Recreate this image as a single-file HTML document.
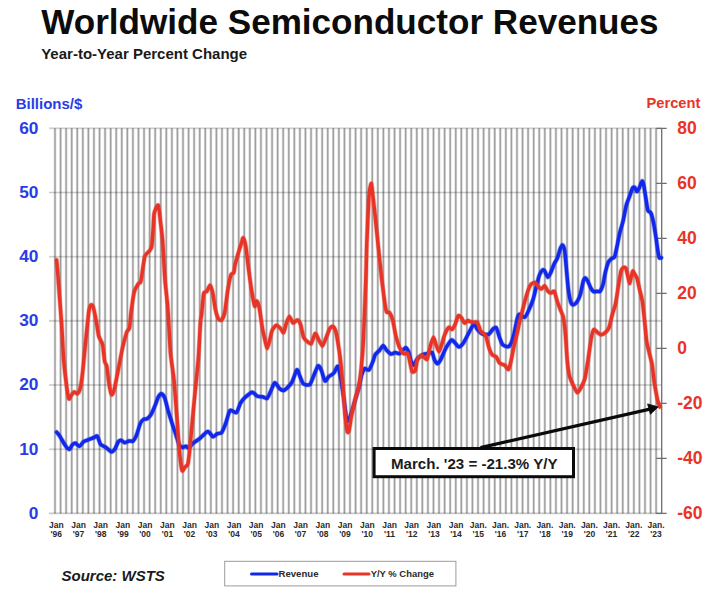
<!DOCTYPE html>
<html><head><meta charset="utf-8"><title>Worldwide Semiconductor Revenues</title>
<style>
html,body{margin:0;padding:0;background:#fff;}
body{width:719px;height:594px;overflow:hidden;position:relative;font-family:"Liberation Sans",sans-serif;}
.t{position:absolute;white-space:nowrap;font-weight:bold;line-height:1;}
svg{position:absolute;left:0;top:0;}
svg text{font-family:"Liberation Sans",sans-serif;font-weight:bold;}
</style></head><body>
<svg width="719" height="594" viewBox="0 0 719 594">
<g fill="none" stroke="#000">
<path d="M55.00,128.3V513.4M60.57,128.3V513.4M66.13,128.3V513.4M71.70,128.3V513.4M77.26,128.3V513.4M82.83,128.3V513.4M88.40,128.3V513.4M93.96,128.3V513.4M99.53,128.3V513.4M105.09,128.3V513.4M110.66,128.3V513.4M116.23,128.3V513.4M121.79,128.3V513.4M127.36,128.3V513.4M132.92,128.3V513.4M138.49,128.3V513.4M144.06,128.3V513.4M149.62,128.3V513.4M155.19,128.3V513.4M160.76,128.3V513.4M166.32,128.3V513.4M171.89,128.3V513.4M177.45,128.3V513.4M183.02,128.3V513.4M188.59,128.3V513.4M194.15,128.3V513.4M199.72,128.3V513.4M205.28,128.3V513.4M210.85,128.3V513.4M216.42,128.3V513.4M221.98,128.3V513.4M227.55,128.3V513.4M233.11,128.3V513.4M238.68,128.3V513.4M244.25,128.3V513.4M249.81,128.3V513.4M255.38,128.3V513.4M260.94,128.3V513.4M266.51,128.3V513.4M272.08,128.3V513.4M277.64,128.3V513.4M283.21,128.3V513.4M288.77,128.3V513.4M294.34,128.3V513.4M299.91,128.3V513.4M305.47,128.3V513.4M311.04,128.3V513.4M316.60,128.3V513.4M322.17,128.3V513.4M327.74,128.3V513.4M333.30,128.3V513.4M338.87,128.3V513.4M344.43,128.3V513.4M350.00,128.3V513.4M355.57,128.3V513.4M361.13,128.3V513.4M366.70,128.3V513.4M372.27,128.3V513.4M377.83,128.3V513.4M383.40,128.3V513.4M388.96,128.3V513.4M394.53,128.3V513.4M400.10,128.3V513.4M405.66,128.3V513.4M411.23,128.3V513.4M416.79,128.3V513.4M422.36,128.3V513.4M427.93,128.3V513.4M433.49,128.3V513.4M439.06,128.3V513.4M444.62,128.3V513.4M450.19,128.3V513.4M455.76,128.3V513.4M461.32,128.3V513.4M466.89,128.3V513.4M472.45,128.3V513.4M478.02,128.3V513.4M483.59,128.3V513.4M489.15,128.3V513.4M494.72,128.3V513.4M500.28,128.3V513.4M505.85,128.3V513.4M511.42,128.3V513.4M516.98,128.3V513.4M522.55,128.3V513.4M528.11,128.3V513.4M533.68,128.3V513.4M539.25,128.3V513.4M544.81,128.3V513.4M550.38,128.3V513.4M555.94,128.3V513.4M561.51,128.3V513.4M567.08,128.3V513.4M572.64,128.3V513.4M578.21,128.3V513.4M583.78,128.3V513.4M589.34,128.3V513.4M594.91,128.3V513.4M600.47,128.3V513.4M606.04,128.3V513.4M611.61,128.3V513.4M617.17,128.3V513.4M622.74,128.3V513.4M628.30,128.3V513.4M633.87,128.3V513.4M639.44,128.3V513.4M645.00,128.3V513.4M650.57,128.3V513.4M656.13,128.3V513.4" stroke-width="2.6" stroke-opacity="0.16"/>
<path d="M55.00,128.3V513.4M60.57,128.3V513.4M66.13,128.3V513.4M71.70,128.3V513.4M77.26,128.3V513.4M82.83,128.3V513.4M88.40,128.3V513.4M93.96,128.3V513.4M99.53,128.3V513.4M105.09,128.3V513.4M110.66,128.3V513.4M116.23,128.3V513.4M121.79,128.3V513.4M127.36,128.3V513.4M132.92,128.3V513.4M138.49,128.3V513.4M144.06,128.3V513.4M149.62,128.3V513.4M155.19,128.3V513.4M160.76,128.3V513.4M166.32,128.3V513.4M171.89,128.3V513.4M177.45,128.3V513.4M183.02,128.3V513.4M188.59,128.3V513.4M194.15,128.3V513.4M199.72,128.3V513.4M205.28,128.3V513.4M210.85,128.3V513.4M216.42,128.3V513.4M221.98,128.3V513.4M227.55,128.3V513.4M233.11,128.3V513.4M238.68,128.3V513.4M244.25,128.3V513.4M249.81,128.3V513.4M255.38,128.3V513.4M260.94,128.3V513.4M266.51,128.3V513.4M272.08,128.3V513.4M277.64,128.3V513.4M283.21,128.3V513.4M288.77,128.3V513.4M294.34,128.3V513.4M299.91,128.3V513.4M305.47,128.3V513.4M311.04,128.3V513.4M316.60,128.3V513.4M322.17,128.3V513.4M327.74,128.3V513.4M333.30,128.3V513.4M338.87,128.3V513.4M344.43,128.3V513.4M350.00,128.3V513.4M355.57,128.3V513.4M361.13,128.3V513.4M366.70,128.3V513.4M372.27,128.3V513.4M377.83,128.3V513.4M383.40,128.3V513.4M388.96,128.3V513.4M394.53,128.3V513.4M400.10,128.3V513.4M405.66,128.3V513.4M411.23,128.3V513.4M416.79,128.3V513.4M422.36,128.3V513.4M427.93,128.3V513.4M433.49,128.3V513.4M439.06,128.3V513.4M444.62,128.3V513.4M450.19,128.3V513.4M455.76,128.3V513.4M461.32,128.3V513.4M466.89,128.3V513.4M472.45,128.3V513.4M478.02,128.3V513.4M483.59,128.3V513.4M489.15,128.3V513.4M494.72,128.3V513.4M500.28,128.3V513.4M505.85,128.3V513.4M511.42,128.3V513.4M516.98,128.3V513.4M522.55,128.3V513.4M528.11,128.3V513.4M533.68,128.3V513.4M539.25,128.3V513.4M544.81,128.3V513.4M550.38,128.3V513.4M555.94,128.3V513.4M561.51,128.3V513.4M567.08,128.3V513.4M572.64,128.3V513.4M578.21,128.3V513.4M583.78,128.3V513.4M589.34,128.3V513.4M594.91,128.3V513.4M600.47,128.3V513.4M606.04,128.3V513.4M611.61,128.3V513.4M617.17,128.3V513.4M622.74,128.3V513.4M628.30,128.3V513.4M633.87,128.3V513.4M639.44,128.3V513.4M645.00,128.3V513.4M650.57,128.3V513.4M656.13,128.3V513.4" stroke-width="1.3" stroke-opacity="0.26"/>
<path d="M49,128.3H661.7M49,192.5H661.7M49,256.7H661.7M49,320.9H661.7M49,385.0H661.7M49,449.2H661.7M49,513.4H661.7" stroke-width="2.1" stroke-opacity="0.11"/>
<path d="M49,128.3H661.7M49,192.5H661.7M49,256.7H661.7M49,320.9H661.7M49,385.0H661.7M49,449.2H661.7M49,513.4H661.7" stroke-width="1.1" stroke-opacity="0.11"/>
</g>
<g stroke="#6e6e6e" stroke-width="1.3" fill="none">
<path d="M661.7,128.3V513.4M656.2,128.3H666.7M656.2,183.3H666.7M656.2,238.3H666.7M656.2,293.4H666.7M656.2,348.4H666.7M656.2,403.4H666.7M656.2,458.4H666.7M656.2,513.4H666.7"/>
</g>
<g fill="none" stroke="#1128ea" stroke-linejoin="round" stroke-linecap="round">
<path d="M56.7,432.2C57.0,432.6 58.9,434.7 59.5,435.7C60.1,436.7 61.9,439.8 62.6,441.0C63.3,442.2 65.1,445.4 65.8,446.3C66.5,447.2 68.7,449.5 69.4,449.4C70.1,449.3 71.5,445.9 72.1,445.2C72.7,444.5 74.4,443.0 75.2,443.1C76.0,443.2 78.6,446.5 79.5,446.3C80.4,446.1 82.7,442.3 83.7,441.6C84.7,440.9 87.7,440.0 88.9,439.5C90.1,439.0 93.3,437.8 94.2,437.4C95.1,437.0 96.6,435.5 97.3,436.2C98.0,436.9 99.6,443.0 100.5,444.2C101.4,445.4 104.6,446.5 105.8,447.3C107.0,448.1 110.6,451.8 111.6,451.9C112.6,452.0 114.5,449.5 115.2,448.4C115.9,447.3 117.7,442.5 118.4,441.6C119.1,440.7 120.8,440.3 121.5,440.4C122.2,440.5 123.9,442.6 124.7,442.7C125.5,442.8 128.0,441.2 128.9,441.0C129.8,440.8 132.3,441.6 133.1,441.0C133.9,440.4 135.5,437.7 136.3,435.7C137.1,433.7 139.7,424.9 140.5,423.1C141.3,421.3 142.9,419.8 143.6,419.3C144.3,418.8 146.0,419.4 146.8,418.9C147.6,418.4 150.1,416.2 151.0,414.7C151.9,413.2 154.4,407.2 155.2,405.2C156.0,403.2 157.7,398.1 158.4,396.8C159.1,395.5 160.8,393.6 161.5,393.7C162.2,393.8 164.0,396.2 164.7,397.9C165.4,399.6 167.0,406.6 167.8,409.4C168.6,412.2 171.1,420.2 172.0,423.1C172.9,426.0 175.4,433.3 176.2,435.7C177.0,438.1 178.7,443.9 179.4,445.2C180.1,446.5 181.8,447.2 182.5,447.3C183.2,447.4 185.0,446.2 185.7,446.3C186.4,446.4 188.1,448.3 188.9,447.9C189.7,447.5 192.2,443.9 193.1,443.1C194.0,442.3 196.2,441.1 197.0,440.5C197.8,439.9 199.3,438.8 200.5,437.8C201.7,436.8 206.5,431.6 207.9,431.5C209.3,431.4 212.1,436.6 213.1,436.8C214.1,437.0 216.5,434.1 217.4,433.6C218.3,433.1 220.7,433.8 221.6,432.6C222.5,431.4 224.9,425.5 225.8,423.1C226.7,420.7 228.8,411.7 230.0,410.5C231.2,409.3 235.1,413.4 236.3,412.6C237.5,411.8 239.6,404.7 240.5,403.1C241.4,401.5 243.4,399.0 244.7,397.8C246.0,396.6 250.7,392.4 252.1,392.2C253.5,392.0 256.1,395.7 257.3,396.2C258.5,396.7 261.5,396.6 262.6,396.8C263.7,397.0 266.3,399.0 267.2,398.3C268.1,397.6 270.2,392.2 271.0,390.5C271.8,388.8 273.9,382.9 274.8,382.7C275.7,382.5 278.4,387.5 279.4,388.4C280.4,389.3 282.7,390.6 283.6,390.5C284.5,390.4 286.9,388.2 287.8,387.3C288.7,386.4 291.0,384.0 292.0,382.1C293.0,380.2 296.1,370.6 296.9,369.9C297.7,369.2 298.9,374.0 299.6,375.5C300.3,377.0 302.3,382.8 303.4,383.8C304.5,384.8 308.5,385.5 309.7,384.6C310.9,383.7 313.0,377.3 313.9,375.2C314.8,373.1 317.3,366.4 318.1,365.8C318.9,365.2 320.4,368.3 321.2,370.0C322.0,371.7 324.2,380.3 325.0,381.0C325.8,381.7 327.6,377.7 328.6,376.8C329.6,375.9 332.9,374.2 333.9,373.0C334.9,371.8 337.2,365.5 338.0,366.3C338.8,367.1 340.3,376.3 341.0,380.0C341.7,383.7 343.3,395.5 344.0,400.0C344.7,404.5 346.3,419.4 347.0,421.0C347.7,422.6 349.9,417.3 350.8,415.0C351.7,412.7 354.3,403.0 355.2,400.0C356.1,397.0 358.0,390.6 358.7,388.0C359.4,385.4 360.9,377.8 361.4,376.0C361.9,374.2 362.4,372.8 362.8,372.0C363.2,371.2 364.0,368.6 364.7,368.4C365.4,368.2 368.0,370.8 368.9,370.0C369.8,369.2 372.4,362.7 373.1,361.0C373.8,359.3 374.5,355.9 375.2,354.7C375.9,353.5 378.5,351.5 379.4,350.5C380.3,349.5 382.4,345.6 383.2,345.6C384.0,345.6 385.9,349.6 386.8,350.5C387.7,351.4 390.1,353.9 391.0,354.1C391.9,354.3 394.3,352.7 395.2,352.6C396.1,352.5 398.6,353.8 399.4,353.6C400.2,353.4 401.9,351.1 402.6,350.5C403.3,349.9 405.0,347.5 405.7,347.7C406.4,347.9 408.3,351.1 408.9,352.6C409.5,354.1 410.5,359.6 411.0,361.0C411.5,362.4 412.8,365.4 413.5,365.2C414.2,365.0 416.3,360.1 417.3,358.9C418.3,357.7 421.4,355.3 422.6,354.7C423.8,354.1 426.8,353.8 427.8,353.6C428.8,353.4 431.3,351.9 432.0,352.6C432.7,353.3 434.0,358.8 434.6,360.0C435.2,361.2 436.7,363.7 437.3,363.7C437.9,363.7 439.7,361.5 440.5,360.0C441.3,358.5 443.8,352.4 444.7,350.5C445.6,348.6 448.1,344.3 448.9,343.1C449.7,341.9 451.3,340.0 452.0,340.0C452.7,340.0 454.5,342.3 455.2,343.1C455.9,343.9 458.0,346.8 458.8,346.9C459.6,347.0 461.7,345.3 462.6,344.2C463.5,343.1 465.9,338.5 466.8,336.8C467.7,335.1 470.2,330.0 471.0,328.6C471.8,327.2 473.4,323.8 474.1,324.0C474.8,324.2 476.9,328.9 477.8,330.0C478.7,331.1 481.4,333.6 482.6,334.1C483.8,334.6 487.7,334.7 488.9,334.1C490.1,333.5 492.3,329.6 493.1,328.9C493.9,328.2 495.6,326.9 496.3,327.8C497.0,328.7 498.8,335.4 499.5,337.3C500.2,339.2 501.7,343.7 502.6,344.7C503.5,345.7 507.0,346.9 507.9,346.8C508.8,346.7 510.3,345.1 511.0,343.6C511.7,342.1 513.5,335.9 514.2,333.1C514.9,330.3 516.7,320.5 517.3,318.4C517.9,316.3 518.6,314.3 519.4,314.2C520.2,314.1 523.7,317.8 524.7,317.3C525.7,316.8 528.0,311.9 528.9,309.9C529.8,307.9 532.3,301.9 533.1,299.4C533.9,296.9 535.6,289.5 536.3,286.8C537.0,284.1 538.7,277.0 539.4,275.2C540.1,273.4 542.0,270.5 542.6,270.0C543.2,269.5 544.1,270.2 544.7,271.0C545.3,271.8 547.1,277.2 547.8,277.3C548.5,277.4 550.3,273.6 551.0,272.1C551.7,270.6 553.5,265.2 554.2,263.7C554.9,262.2 556.6,260.0 557.3,258.4C558.0,256.8 559.7,250.2 560.3,248.7C560.9,247.2 562.0,244.9 562.5,245.1C563.0,245.3 564.1,247.4 564.6,250.2C565.1,253.0 566.2,266.5 566.6,271.0C567.0,275.5 568.1,287.6 568.6,291.0C569.1,294.4 570.2,300.5 570.7,302.0C571.2,303.5 572.4,304.8 573.1,304.8C573.8,304.8 576.2,302.9 577.0,301.8C577.8,300.7 579.6,296.8 580.3,294.5C581.0,292.2 582.7,282.8 583.3,281.0C583.9,279.2 584.9,277.9 585.4,278.0C585.9,278.1 587.3,280.4 587.9,281.5C588.5,282.6 590.1,286.7 590.7,287.8C591.3,288.9 593.1,291.3 593.8,291.7C594.5,292.1 596.3,291.3 597.0,291.3C597.7,291.3 599.3,292.1 600.0,291.3C600.7,290.5 602.5,286.2 603.1,284.2C603.7,282.2 604.6,275.4 605.2,273.0C605.8,270.6 607.5,264.2 608.2,262.6C608.9,261.0 610.8,259.3 611.5,258.7C612.2,258.1 613.9,258.3 614.5,257.0C615.1,255.7 616.4,249.2 617.0,246.5C617.6,243.8 619.3,234.8 620.0,232.0C620.7,229.2 622.4,223.9 623.1,221.0C623.8,218.1 625.6,207.9 626.3,205.2C627.0,202.5 628.7,198.7 629.4,196.8C630.1,194.9 632.0,189.0 632.6,188.0C633.2,187.0 634.2,187.0 634.7,187.4C635.2,187.8 636.3,191.6 636.8,191.6C637.3,191.6 638.9,188.6 639.5,187.4C640.1,186.2 641.6,181.2 642.1,181.0C642.6,180.8 643.3,183.3 643.7,185.2C644.1,187.1 645.3,195.1 645.8,197.9C646.3,200.7 647.3,208.8 647.9,210.5C648.5,212.2 650.3,211.6 650.9,213.0C651.5,214.4 653.1,220.6 653.6,223.1C654.1,225.6 655.2,232.7 655.7,235.7C656.2,238.7 657.4,248.1 657.8,250.5C658.2,252.9 658.9,257.0 659.3,257.8C659.7,258.6 661.2,257.8 661.4,257.8" stroke-width="4.9" stroke-opacity="0.35"/>
<path d="M56.7,432.2C57.0,432.6 58.9,434.7 59.5,435.7C60.1,436.7 61.9,439.8 62.6,441.0C63.3,442.2 65.1,445.4 65.8,446.3C66.5,447.2 68.7,449.5 69.4,449.4C70.1,449.3 71.5,445.9 72.1,445.2C72.7,444.5 74.4,443.0 75.2,443.1C76.0,443.2 78.6,446.5 79.5,446.3C80.4,446.1 82.7,442.3 83.7,441.6C84.7,440.9 87.7,440.0 88.9,439.5C90.1,439.0 93.3,437.8 94.2,437.4C95.1,437.0 96.6,435.5 97.3,436.2C98.0,436.9 99.6,443.0 100.5,444.2C101.4,445.4 104.6,446.5 105.8,447.3C107.0,448.1 110.6,451.8 111.6,451.9C112.6,452.0 114.5,449.5 115.2,448.4C115.9,447.3 117.7,442.5 118.4,441.6C119.1,440.7 120.8,440.3 121.5,440.4C122.2,440.5 123.9,442.6 124.7,442.7C125.5,442.8 128.0,441.2 128.9,441.0C129.8,440.8 132.3,441.6 133.1,441.0C133.9,440.4 135.5,437.7 136.3,435.7C137.1,433.7 139.7,424.9 140.5,423.1C141.3,421.3 142.9,419.8 143.6,419.3C144.3,418.8 146.0,419.4 146.8,418.9C147.6,418.4 150.1,416.2 151.0,414.7C151.9,413.2 154.4,407.2 155.2,405.2C156.0,403.2 157.7,398.1 158.4,396.8C159.1,395.5 160.8,393.6 161.5,393.7C162.2,393.8 164.0,396.2 164.7,397.9C165.4,399.6 167.0,406.6 167.8,409.4C168.6,412.2 171.1,420.2 172.0,423.1C172.9,426.0 175.4,433.3 176.2,435.7C177.0,438.1 178.7,443.9 179.4,445.2C180.1,446.5 181.8,447.2 182.5,447.3C183.2,447.4 185.0,446.2 185.7,446.3C186.4,446.4 188.1,448.3 188.9,447.9C189.7,447.5 192.2,443.9 193.1,443.1C194.0,442.3 196.2,441.1 197.0,440.5C197.8,439.9 199.3,438.8 200.5,437.8C201.7,436.8 206.5,431.6 207.9,431.5C209.3,431.4 212.1,436.6 213.1,436.8C214.1,437.0 216.5,434.1 217.4,433.6C218.3,433.1 220.7,433.8 221.6,432.6C222.5,431.4 224.9,425.5 225.8,423.1C226.7,420.7 228.8,411.7 230.0,410.5C231.2,409.3 235.1,413.4 236.3,412.6C237.5,411.8 239.6,404.7 240.5,403.1C241.4,401.5 243.4,399.0 244.7,397.8C246.0,396.6 250.7,392.4 252.1,392.2C253.5,392.0 256.1,395.7 257.3,396.2C258.5,396.7 261.5,396.6 262.6,396.8C263.7,397.0 266.3,399.0 267.2,398.3C268.1,397.6 270.2,392.2 271.0,390.5C271.8,388.8 273.9,382.9 274.8,382.7C275.7,382.5 278.4,387.5 279.4,388.4C280.4,389.3 282.7,390.6 283.6,390.5C284.5,390.4 286.9,388.2 287.8,387.3C288.7,386.4 291.0,384.0 292.0,382.1C293.0,380.2 296.1,370.6 296.9,369.9C297.7,369.2 298.9,374.0 299.6,375.5C300.3,377.0 302.3,382.8 303.4,383.8C304.5,384.8 308.5,385.5 309.7,384.6C310.9,383.7 313.0,377.3 313.9,375.2C314.8,373.1 317.3,366.4 318.1,365.8C318.9,365.2 320.4,368.3 321.2,370.0C322.0,371.7 324.2,380.3 325.0,381.0C325.8,381.7 327.6,377.7 328.6,376.8C329.6,375.9 332.9,374.2 333.9,373.0C334.9,371.8 337.2,365.5 338.0,366.3C338.8,367.1 340.3,376.3 341.0,380.0C341.7,383.7 343.3,395.5 344.0,400.0C344.7,404.5 346.3,419.4 347.0,421.0C347.7,422.6 349.9,417.3 350.8,415.0C351.7,412.7 354.3,403.0 355.2,400.0C356.1,397.0 358.0,390.6 358.7,388.0C359.4,385.4 360.9,377.8 361.4,376.0C361.9,374.2 362.4,372.8 362.8,372.0C363.2,371.2 364.0,368.6 364.7,368.4C365.4,368.2 368.0,370.8 368.9,370.0C369.8,369.2 372.4,362.7 373.1,361.0C373.8,359.3 374.5,355.9 375.2,354.7C375.9,353.5 378.5,351.5 379.4,350.5C380.3,349.5 382.4,345.6 383.2,345.6C384.0,345.6 385.9,349.6 386.8,350.5C387.7,351.4 390.1,353.9 391.0,354.1C391.9,354.3 394.3,352.7 395.2,352.6C396.1,352.5 398.6,353.8 399.4,353.6C400.2,353.4 401.9,351.1 402.6,350.5C403.3,349.9 405.0,347.5 405.7,347.7C406.4,347.9 408.3,351.1 408.9,352.6C409.5,354.1 410.5,359.6 411.0,361.0C411.5,362.4 412.8,365.4 413.5,365.2C414.2,365.0 416.3,360.1 417.3,358.9C418.3,357.7 421.4,355.3 422.6,354.7C423.8,354.1 426.8,353.8 427.8,353.6C428.8,353.4 431.3,351.9 432.0,352.6C432.7,353.3 434.0,358.8 434.6,360.0C435.2,361.2 436.7,363.7 437.3,363.7C437.9,363.7 439.7,361.5 440.5,360.0C441.3,358.5 443.8,352.4 444.7,350.5C445.6,348.6 448.1,344.3 448.9,343.1C449.7,341.9 451.3,340.0 452.0,340.0C452.7,340.0 454.5,342.3 455.2,343.1C455.9,343.9 458.0,346.8 458.8,346.9C459.6,347.0 461.7,345.3 462.6,344.2C463.5,343.1 465.9,338.5 466.8,336.8C467.7,335.1 470.2,330.0 471.0,328.6C471.8,327.2 473.4,323.8 474.1,324.0C474.8,324.2 476.9,328.9 477.8,330.0C478.7,331.1 481.4,333.6 482.6,334.1C483.8,334.6 487.7,334.7 488.9,334.1C490.1,333.5 492.3,329.6 493.1,328.9C493.9,328.2 495.6,326.9 496.3,327.8C497.0,328.7 498.8,335.4 499.5,337.3C500.2,339.2 501.7,343.7 502.6,344.7C503.5,345.7 507.0,346.9 507.9,346.8C508.8,346.7 510.3,345.1 511.0,343.6C511.7,342.1 513.5,335.9 514.2,333.1C514.9,330.3 516.7,320.5 517.3,318.4C517.9,316.3 518.6,314.3 519.4,314.2C520.2,314.1 523.7,317.8 524.7,317.3C525.7,316.8 528.0,311.9 528.9,309.9C529.8,307.9 532.3,301.9 533.1,299.4C533.9,296.9 535.6,289.5 536.3,286.8C537.0,284.1 538.7,277.0 539.4,275.2C540.1,273.4 542.0,270.5 542.6,270.0C543.2,269.5 544.1,270.2 544.7,271.0C545.3,271.8 547.1,277.2 547.8,277.3C548.5,277.4 550.3,273.6 551.0,272.1C551.7,270.6 553.5,265.2 554.2,263.7C554.9,262.2 556.6,260.0 557.3,258.4C558.0,256.8 559.7,250.2 560.3,248.7C560.9,247.2 562.0,244.9 562.5,245.1C563.0,245.3 564.1,247.4 564.6,250.2C565.1,253.0 566.2,266.5 566.6,271.0C567.0,275.5 568.1,287.6 568.6,291.0C569.1,294.4 570.2,300.5 570.7,302.0C571.2,303.5 572.4,304.8 573.1,304.8C573.8,304.8 576.2,302.9 577.0,301.8C577.8,300.7 579.6,296.8 580.3,294.5C581.0,292.2 582.7,282.8 583.3,281.0C583.9,279.2 584.9,277.9 585.4,278.0C585.9,278.1 587.3,280.4 587.9,281.5C588.5,282.6 590.1,286.7 590.7,287.8C591.3,288.9 593.1,291.3 593.8,291.7C594.5,292.1 596.3,291.3 597.0,291.3C597.7,291.3 599.3,292.1 600.0,291.3C600.7,290.5 602.5,286.2 603.1,284.2C603.7,282.2 604.6,275.4 605.2,273.0C605.8,270.6 607.5,264.2 608.2,262.6C608.9,261.0 610.8,259.3 611.5,258.7C612.2,258.1 613.9,258.3 614.5,257.0C615.1,255.7 616.4,249.2 617.0,246.5C617.6,243.8 619.3,234.8 620.0,232.0C620.7,229.2 622.4,223.9 623.1,221.0C623.8,218.1 625.6,207.9 626.3,205.2C627.0,202.5 628.7,198.7 629.4,196.8C630.1,194.9 632.0,189.0 632.6,188.0C633.2,187.0 634.2,187.0 634.7,187.4C635.2,187.8 636.3,191.6 636.8,191.6C637.3,191.6 638.9,188.6 639.5,187.4C640.1,186.2 641.6,181.2 642.1,181.0C642.6,180.8 643.3,183.3 643.7,185.2C644.1,187.1 645.3,195.1 645.8,197.9C646.3,200.7 647.3,208.8 647.9,210.5C648.5,212.2 650.3,211.6 650.9,213.0C651.5,214.4 653.1,220.6 653.6,223.1C654.1,225.6 655.2,232.7 655.7,235.7C656.2,238.7 657.4,248.1 657.8,250.5C658.2,252.9 658.9,257.0 659.3,257.8C659.7,258.6 661.2,257.8 661.4,257.8" stroke-width="3.5"/>
</g>
<g fill="none" stroke="#e83426" stroke-linejoin="round" stroke-linecap="round">
<path d="M56.6,260.0C56.8,262.4 57.9,274.6 58.4,281.6C58.9,288.6 61.0,315.0 61.6,323.6C62.2,332.2 63.1,353.0 63.7,360.0C64.3,367.0 66.2,383.1 66.8,387.4C67.4,391.7 68.4,398.0 68.9,398.9C69.4,399.8 70.4,396.6 71.0,395.8C71.6,395.0 73.5,392.2 74.2,392.0C74.9,391.8 76.8,394.0 77.4,393.7C78.0,393.4 79.3,391.8 79.9,389.5C80.5,387.2 82.1,376.8 82.6,372.6C83.1,368.4 84.0,357.8 84.7,351.0C85.4,344.2 88.2,316.0 88.9,311.0C89.6,306.0 90.5,305.6 91.0,305.1C91.5,304.6 92.5,305.0 93.1,306.8C93.7,308.6 95.7,318.3 96.3,321.5C96.9,324.7 98.1,333.7 98.8,336.3C99.5,338.9 102.0,341.9 102.6,344.7C103.2,347.5 104.2,359.1 104.7,361.5C105.2,363.9 106.3,363.9 106.8,366.3C107.3,368.7 108.4,380.0 108.9,383.1C109.4,386.2 111.0,394.0 111.6,394.7C112.2,395.4 113.6,391.7 114.2,389.5C114.8,387.3 116.6,378.2 117.3,374.7C118.0,371.2 119.9,360.9 120.5,358.0C121.1,355.1 121.8,350.9 122.5,348.0C123.2,345.1 126.0,334.2 126.8,332.0C127.6,329.8 129.0,329.9 129.5,327.8C130.0,325.7 130.5,316.9 131.0,313.0C131.5,309.1 133.4,295.2 134.2,292.0C135.0,288.8 137.7,284.9 138.4,283.7C139.1,282.5 140.2,284.0 140.9,281.0C141.6,278.0 143.8,260.1 144.7,256.8C145.6,253.5 148.7,252.0 149.5,250.8C150.3,249.6 151.4,248.5 151.8,246.0C152.2,243.5 152.9,231.6 153.2,228.0C153.5,224.4 153.6,215.6 154.2,213.1C154.8,210.6 157.5,204.3 158.2,205.3C158.9,206.3 160.0,218.1 160.5,222.0C161.0,225.9 162.1,234.1 162.6,240.5C163.1,246.9 164.4,272.6 165.0,280.0C165.6,287.4 167.2,300.0 167.8,308.0C168.4,316.0 169.8,345.0 170.5,353.0C171.2,361.0 173.4,373.3 174.1,381.0C174.8,388.7 176.7,415.4 177.3,423.0C177.9,430.6 178.9,445.3 179.4,450.5C179.9,455.7 181.5,468.7 182.1,470.5C182.7,472.3 184.1,468.0 184.7,467.3C185.3,466.6 187.2,466.2 187.8,464.1C188.4,462.0 189.3,454.1 189.9,448.4C190.5,442.7 192.4,420.0 193.1,412.6C193.8,405.2 195.6,387.0 196.2,381.0C196.8,375.0 197.9,364.5 198.4,358.0C198.9,351.5 200.1,326.8 200.5,322.0C200.9,317.2 201.2,317.8 201.6,314.7C202.0,311.6 203.1,296.2 203.7,293.6C204.3,291.0 206.1,292.4 206.8,291.5C207.5,290.6 209.4,285.1 210.0,285.2C210.6,285.3 212.1,290.0 212.7,292.6C213.3,295.2 214.6,305.5 215.2,308.4C215.8,311.3 217.7,317.6 218.4,318.9C219.1,320.2 220.9,320.6 221.6,319.9C222.3,319.2 224.0,316.0 224.7,312.6C225.4,309.2 227.2,293.6 227.9,289.4C228.6,285.2 230.4,276.5 231.0,274.7C231.6,272.9 233.3,273.8 233.8,272.6C234.3,271.4 234.6,266.7 235.2,264.2C235.8,261.7 238.7,251.8 239.4,249.5C240.1,247.2 241.1,244.4 241.5,243.1C241.9,241.8 242.7,237.5 243.2,237.9C243.7,238.3 245.2,242.9 245.8,246.3C246.4,249.7 247.8,263.2 248.5,268.4C249.2,273.6 251.4,289.4 252.1,293.6C252.8,297.8 254.3,305.5 254.8,306.3C255.3,307.1 256.4,300.8 256.9,301.0C257.4,301.2 258.8,305.3 259.4,308.4C260.0,311.5 262.0,326.0 262.6,329.4C263.2,332.8 264.2,336.8 264.7,338.9C265.2,341.0 266.6,348.4 267.2,348.4C267.8,348.4 269.5,340.9 270.0,338.9C270.5,336.9 271.4,332.0 272.1,330.5C272.8,329.0 275.4,325.5 276.3,325.3C277.2,325.1 279.7,327.6 280.5,328.4C281.3,329.2 283.0,333.2 283.6,332.6C284.2,332.0 285.8,324.9 286.4,323.1C287.0,321.3 288.6,316.4 289.3,316.4C290.0,316.4 292.2,322.7 293.1,323.1C294.0,323.5 296.5,319.8 297.3,319.9C298.1,320.0 299.8,322.2 300.5,324.1C301.2,326.0 302.8,335.3 303.6,337.3C304.4,339.3 307.0,341.3 307.8,342.0C308.6,342.7 310.5,344.4 311.3,343.5C312.1,342.6 314.4,334.1 315.2,333.6C316.0,333.1 317.5,337.5 318.3,338.9C319.1,340.3 321.7,346.1 322.5,346.0C323.3,345.9 325.2,339.9 326.0,338.0C326.8,336.1 329.1,329.7 329.9,328.4C330.7,327.1 332.4,326.0 333.1,326.5C333.8,327.0 335.5,330.2 336.2,333.0C336.9,335.8 338.8,348.1 339.4,352.0C340.0,355.9 340.9,364.0 341.3,368.0C341.7,372.0 342.7,383.2 343.1,388.4C343.5,393.6 344.7,411.0 345.2,415.7C345.7,420.4 346.9,429.9 347.3,431.5C347.7,433.1 348.5,432.2 349.0,430.5C349.5,428.8 350.8,419.4 351.5,415.7C352.2,412.0 355.0,400.0 355.8,396.8C356.6,393.6 358.1,390.2 358.7,387.0C359.3,383.8 360.8,373.2 361.3,368.0C361.8,362.8 362.9,349.7 363.4,340.0C363.9,330.3 365.4,290.6 365.8,280.0C366.2,269.4 366.5,252.7 366.8,243.6C367.1,234.5 368.5,203.5 368.9,197.4C369.3,191.3 369.7,189.4 370.0,187.9C370.3,186.4 371.1,182.7 371.4,183.7C371.7,184.7 372.7,193.8 373.1,197.4C373.5,201.0 374.6,210.8 375.2,216.3C375.8,221.8 377.7,241.1 378.4,247.8C379.1,254.5 380.9,271.8 381.5,277.0C382.1,282.2 383.2,290.9 383.7,294.7C384.2,298.5 385.8,309.6 386.4,311.6C387.0,313.6 388.8,311.7 389.5,312.6C390.2,313.5 392.0,317.6 392.7,320.0C393.4,322.4 394.9,331.7 395.6,334.7C396.3,337.7 398.5,345.2 399.4,347.3C400.3,349.4 402.7,352.9 403.6,353.6C404.5,354.3 407.1,352.7 407.8,353.6C408.5,354.5 409.4,360.1 409.9,362.1C410.4,364.1 411.5,370.6 412.1,371.5C412.7,372.4 414.6,371.8 415.2,370.5C415.8,369.2 416.6,361.7 417.3,360.0C418.0,358.3 420.7,355.5 421.5,355.3C422.3,355.1 424.1,357.4 424.7,357.8C425.3,358.2 426.6,360.3 427.2,358.9C427.8,357.5 429.9,347.6 430.6,345.2C431.3,342.8 432.9,337.2 433.5,337.2C434.1,337.2 435.6,343.6 436.2,345.2C436.8,346.8 438.4,351.5 439.0,351.5C439.6,351.5 440.9,347.0 441.5,345.2C442.1,343.4 443.9,336.7 444.7,334.7C445.5,332.7 448.1,327.9 448.9,327.3C449.7,326.7 451.3,329.7 452.0,329.4C452.7,329.1 454.5,325.7 455.2,324.2C455.9,322.7 457.6,316.5 458.3,315.8C459.0,315.1 460.8,317.1 461.5,317.9C462.2,318.7 464.0,322.8 464.7,323.1C465.4,323.4 467.0,320.7 467.8,320.6C468.6,320.5 470.9,322.1 472.0,322.3C473.1,322.5 476.5,321.5 477.4,322.4C478.3,323.3 479.6,329.2 480.5,330.7C481.4,332.2 484.9,334.1 485.8,336.0C486.7,337.9 488.2,345.5 488.9,347.6C489.6,349.7 491.3,353.7 492.1,354.7C492.9,355.7 495.5,355.9 496.3,356.8C497.1,357.7 498.6,362.2 499.5,363.1C500.4,364.0 503.7,364.5 504.7,365.2C505.7,365.9 507.8,369.9 508.5,369.4C509.2,368.9 510.4,363.7 511.0,361.0C511.6,358.3 513.5,348.3 514.2,345.2C514.9,342.1 516.7,335.1 517.3,332.6C517.9,330.1 518.7,325.6 519.4,322.6C520.1,319.6 522.8,309.2 523.7,305.7C524.6,302.2 527.1,293.4 527.9,291.0C528.7,288.6 530.2,285.2 531.0,284.3C531.8,283.4 534.4,282.3 535.2,282.6C536.0,282.9 537.7,286.1 538.4,286.8C539.1,287.5 540.8,289.0 541.5,288.9C542.2,288.8 544.0,285.6 544.7,285.8C545.4,286.0 547.1,290.2 547.8,291.0C548.5,291.8 550.3,293.1 551.0,293.1C551.7,293.1 553.5,290.5 554.2,291.4C554.9,292.3 556.6,299.5 557.3,301.5C558.0,303.5 559.8,308.2 560.5,310.0C561.2,311.8 562.9,314.8 563.4,317.5C563.9,320.2 565.1,330.2 565.5,335.0C565.9,339.8 566.9,356.6 567.3,361.0C567.7,365.4 568.8,372.9 569.2,375.0C569.6,377.1 570.5,378.7 571.0,380.0C571.5,381.3 573.4,385.6 574.1,387.0C574.8,388.4 576.6,392.4 577.3,392.6C578.0,392.8 579.7,390.1 580.5,388.5C581.3,386.9 584.1,381.7 584.9,378.5C585.7,375.3 587.5,363.5 588.2,359.0C588.9,354.5 590.7,341.3 591.3,338.0C591.9,334.7 593.2,329.9 593.9,329.4C594.6,328.8 597.3,332.4 598.1,333.0C598.9,333.6 600.5,334.9 601.3,334.8C602.1,334.7 604.6,333.2 605.5,332.4C606.4,331.6 608.5,329.2 609.2,327.2C609.9,325.2 611.6,317.1 612.3,314.5C613.0,311.9 614.8,307.1 615.5,304.0C616.2,300.9 617.8,289.7 618.4,286.0C619.0,282.3 620.6,272.5 621.2,270.5C621.8,268.5 623.0,267.8 623.5,267.5C624.0,267.2 625.3,267.3 625.8,268.2C626.3,269.1 627.3,273.8 627.7,275.5C628.1,277.2 629.3,283.5 629.7,283.5C630.1,283.5 631.1,276.9 631.5,275.5C631.9,274.1 632.5,271.1 632.9,271.0C633.3,270.9 634.5,273.9 635.0,274.7C635.5,275.5 636.6,276.9 637.1,278.5C637.6,280.1 639.0,286.9 639.6,289.5C640.2,292.1 642.0,298.6 642.5,302.1C643.0,305.6 644.1,316.7 644.6,321.0C645.1,325.3 646.1,337.4 646.6,341.0C647.1,344.6 648.8,350.9 649.4,353.5C650.0,356.1 651.7,361.9 652.2,365.0C652.7,368.1 653.8,379.2 654.2,382.0C654.6,384.8 655.3,388.4 655.7,390.5C656.1,392.6 657.3,399.2 657.8,401.0C658.3,402.8 659.7,406.3 659.9,406.9" stroke-width="4.9" stroke-opacity="0.35"/>
<path d="M56.6,260.0C56.8,262.4 57.9,274.6 58.4,281.6C58.9,288.6 61.0,315.0 61.6,323.6C62.2,332.2 63.1,353.0 63.7,360.0C64.3,367.0 66.2,383.1 66.8,387.4C67.4,391.7 68.4,398.0 68.9,398.9C69.4,399.8 70.4,396.6 71.0,395.8C71.6,395.0 73.5,392.2 74.2,392.0C74.9,391.8 76.8,394.0 77.4,393.7C78.0,393.4 79.3,391.8 79.9,389.5C80.5,387.2 82.1,376.8 82.6,372.6C83.1,368.4 84.0,357.8 84.7,351.0C85.4,344.2 88.2,316.0 88.9,311.0C89.6,306.0 90.5,305.6 91.0,305.1C91.5,304.6 92.5,305.0 93.1,306.8C93.7,308.6 95.7,318.3 96.3,321.5C96.9,324.7 98.1,333.7 98.8,336.3C99.5,338.9 102.0,341.9 102.6,344.7C103.2,347.5 104.2,359.1 104.7,361.5C105.2,363.9 106.3,363.9 106.8,366.3C107.3,368.7 108.4,380.0 108.9,383.1C109.4,386.2 111.0,394.0 111.6,394.7C112.2,395.4 113.6,391.7 114.2,389.5C114.8,387.3 116.6,378.2 117.3,374.7C118.0,371.2 119.9,360.9 120.5,358.0C121.1,355.1 121.8,350.9 122.5,348.0C123.2,345.1 126.0,334.2 126.8,332.0C127.6,329.8 129.0,329.9 129.5,327.8C130.0,325.7 130.5,316.9 131.0,313.0C131.5,309.1 133.4,295.2 134.2,292.0C135.0,288.8 137.7,284.9 138.4,283.7C139.1,282.5 140.2,284.0 140.9,281.0C141.6,278.0 143.8,260.1 144.7,256.8C145.6,253.5 148.7,252.0 149.5,250.8C150.3,249.6 151.4,248.5 151.8,246.0C152.2,243.5 152.9,231.6 153.2,228.0C153.5,224.4 153.6,215.6 154.2,213.1C154.8,210.6 157.5,204.3 158.2,205.3C158.9,206.3 160.0,218.1 160.5,222.0C161.0,225.9 162.1,234.1 162.6,240.5C163.1,246.9 164.4,272.6 165.0,280.0C165.6,287.4 167.2,300.0 167.8,308.0C168.4,316.0 169.8,345.0 170.5,353.0C171.2,361.0 173.4,373.3 174.1,381.0C174.8,388.7 176.7,415.4 177.3,423.0C177.9,430.6 178.9,445.3 179.4,450.5C179.9,455.7 181.5,468.7 182.1,470.5C182.7,472.3 184.1,468.0 184.7,467.3C185.3,466.6 187.2,466.2 187.8,464.1C188.4,462.0 189.3,454.1 189.9,448.4C190.5,442.7 192.4,420.0 193.1,412.6C193.8,405.2 195.6,387.0 196.2,381.0C196.8,375.0 197.9,364.5 198.4,358.0C198.9,351.5 200.1,326.8 200.5,322.0C200.9,317.2 201.2,317.8 201.6,314.7C202.0,311.6 203.1,296.2 203.7,293.6C204.3,291.0 206.1,292.4 206.8,291.5C207.5,290.6 209.4,285.1 210.0,285.2C210.6,285.3 212.1,290.0 212.7,292.6C213.3,295.2 214.6,305.5 215.2,308.4C215.8,311.3 217.7,317.6 218.4,318.9C219.1,320.2 220.9,320.6 221.6,319.9C222.3,319.2 224.0,316.0 224.7,312.6C225.4,309.2 227.2,293.6 227.9,289.4C228.6,285.2 230.4,276.5 231.0,274.7C231.6,272.9 233.3,273.8 233.8,272.6C234.3,271.4 234.6,266.7 235.2,264.2C235.8,261.7 238.7,251.8 239.4,249.5C240.1,247.2 241.1,244.4 241.5,243.1C241.9,241.8 242.7,237.5 243.2,237.9C243.7,238.3 245.2,242.9 245.8,246.3C246.4,249.7 247.8,263.2 248.5,268.4C249.2,273.6 251.4,289.4 252.1,293.6C252.8,297.8 254.3,305.5 254.8,306.3C255.3,307.1 256.4,300.8 256.9,301.0C257.4,301.2 258.8,305.3 259.4,308.4C260.0,311.5 262.0,326.0 262.6,329.4C263.2,332.8 264.2,336.8 264.7,338.9C265.2,341.0 266.6,348.4 267.2,348.4C267.8,348.4 269.5,340.9 270.0,338.9C270.5,336.9 271.4,332.0 272.1,330.5C272.8,329.0 275.4,325.5 276.3,325.3C277.2,325.1 279.7,327.6 280.5,328.4C281.3,329.2 283.0,333.2 283.6,332.6C284.2,332.0 285.8,324.9 286.4,323.1C287.0,321.3 288.6,316.4 289.3,316.4C290.0,316.4 292.2,322.7 293.1,323.1C294.0,323.5 296.5,319.8 297.3,319.9C298.1,320.0 299.8,322.2 300.5,324.1C301.2,326.0 302.8,335.3 303.6,337.3C304.4,339.3 307.0,341.3 307.8,342.0C308.6,342.7 310.5,344.4 311.3,343.5C312.1,342.6 314.4,334.1 315.2,333.6C316.0,333.1 317.5,337.5 318.3,338.9C319.1,340.3 321.7,346.1 322.5,346.0C323.3,345.9 325.2,339.9 326.0,338.0C326.8,336.1 329.1,329.7 329.9,328.4C330.7,327.1 332.4,326.0 333.1,326.5C333.8,327.0 335.5,330.2 336.2,333.0C336.9,335.8 338.8,348.1 339.4,352.0C340.0,355.9 340.9,364.0 341.3,368.0C341.7,372.0 342.7,383.2 343.1,388.4C343.5,393.6 344.7,411.0 345.2,415.7C345.7,420.4 346.9,429.9 347.3,431.5C347.7,433.1 348.5,432.2 349.0,430.5C349.5,428.8 350.8,419.4 351.5,415.7C352.2,412.0 355.0,400.0 355.8,396.8C356.6,393.6 358.1,390.2 358.7,387.0C359.3,383.8 360.8,373.2 361.3,368.0C361.8,362.8 362.9,349.7 363.4,340.0C363.9,330.3 365.4,290.6 365.8,280.0C366.2,269.4 366.5,252.7 366.8,243.6C367.1,234.5 368.5,203.5 368.9,197.4C369.3,191.3 369.7,189.4 370.0,187.9C370.3,186.4 371.1,182.7 371.4,183.7C371.7,184.7 372.7,193.8 373.1,197.4C373.5,201.0 374.6,210.8 375.2,216.3C375.8,221.8 377.7,241.1 378.4,247.8C379.1,254.5 380.9,271.8 381.5,277.0C382.1,282.2 383.2,290.9 383.7,294.7C384.2,298.5 385.8,309.6 386.4,311.6C387.0,313.6 388.8,311.7 389.5,312.6C390.2,313.5 392.0,317.6 392.7,320.0C393.4,322.4 394.9,331.7 395.6,334.7C396.3,337.7 398.5,345.2 399.4,347.3C400.3,349.4 402.7,352.9 403.6,353.6C404.5,354.3 407.1,352.7 407.8,353.6C408.5,354.5 409.4,360.1 409.9,362.1C410.4,364.1 411.5,370.6 412.1,371.5C412.7,372.4 414.6,371.8 415.2,370.5C415.8,369.2 416.6,361.7 417.3,360.0C418.0,358.3 420.7,355.5 421.5,355.3C422.3,355.1 424.1,357.4 424.7,357.8C425.3,358.2 426.6,360.3 427.2,358.9C427.8,357.5 429.9,347.6 430.6,345.2C431.3,342.8 432.9,337.2 433.5,337.2C434.1,337.2 435.6,343.6 436.2,345.2C436.8,346.8 438.4,351.5 439.0,351.5C439.6,351.5 440.9,347.0 441.5,345.2C442.1,343.4 443.9,336.7 444.7,334.7C445.5,332.7 448.1,327.9 448.9,327.3C449.7,326.7 451.3,329.7 452.0,329.4C452.7,329.1 454.5,325.7 455.2,324.2C455.9,322.7 457.6,316.5 458.3,315.8C459.0,315.1 460.8,317.1 461.5,317.9C462.2,318.7 464.0,322.8 464.7,323.1C465.4,323.4 467.0,320.7 467.8,320.6C468.6,320.5 470.9,322.1 472.0,322.3C473.1,322.5 476.5,321.5 477.4,322.4C478.3,323.3 479.6,329.2 480.5,330.7C481.4,332.2 484.9,334.1 485.8,336.0C486.7,337.9 488.2,345.5 488.9,347.6C489.6,349.7 491.3,353.7 492.1,354.7C492.9,355.7 495.5,355.9 496.3,356.8C497.1,357.7 498.6,362.2 499.5,363.1C500.4,364.0 503.7,364.5 504.7,365.2C505.7,365.9 507.8,369.9 508.5,369.4C509.2,368.9 510.4,363.7 511.0,361.0C511.6,358.3 513.5,348.3 514.2,345.2C514.9,342.1 516.7,335.1 517.3,332.6C517.9,330.1 518.7,325.6 519.4,322.6C520.1,319.6 522.8,309.2 523.7,305.7C524.6,302.2 527.1,293.4 527.9,291.0C528.7,288.6 530.2,285.2 531.0,284.3C531.8,283.4 534.4,282.3 535.2,282.6C536.0,282.9 537.7,286.1 538.4,286.8C539.1,287.5 540.8,289.0 541.5,288.9C542.2,288.8 544.0,285.6 544.7,285.8C545.4,286.0 547.1,290.2 547.8,291.0C548.5,291.8 550.3,293.1 551.0,293.1C551.7,293.1 553.5,290.5 554.2,291.4C554.9,292.3 556.6,299.5 557.3,301.5C558.0,303.5 559.8,308.2 560.5,310.0C561.2,311.8 562.9,314.8 563.4,317.5C563.9,320.2 565.1,330.2 565.5,335.0C565.9,339.8 566.9,356.6 567.3,361.0C567.7,365.4 568.8,372.9 569.2,375.0C569.6,377.1 570.5,378.7 571.0,380.0C571.5,381.3 573.4,385.6 574.1,387.0C574.8,388.4 576.6,392.4 577.3,392.6C578.0,392.8 579.7,390.1 580.5,388.5C581.3,386.9 584.1,381.7 584.9,378.5C585.7,375.3 587.5,363.5 588.2,359.0C588.9,354.5 590.7,341.3 591.3,338.0C591.9,334.7 593.2,329.9 593.9,329.4C594.6,328.8 597.3,332.4 598.1,333.0C598.9,333.6 600.5,334.9 601.3,334.8C602.1,334.7 604.6,333.2 605.5,332.4C606.4,331.6 608.5,329.2 609.2,327.2C609.9,325.2 611.6,317.1 612.3,314.5C613.0,311.9 614.8,307.1 615.5,304.0C616.2,300.9 617.8,289.7 618.4,286.0C619.0,282.3 620.6,272.5 621.2,270.5C621.8,268.5 623.0,267.8 623.5,267.5C624.0,267.2 625.3,267.3 625.8,268.2C626.3,269.1 627.3,273.8 627.7,275.5C628.1,277.2 629.3,283.5 629.7,283.5C630.1,283.5 631.1,276.9 631.5,275.5C631.9,274.1 632.5,271.1 632.9,271.0C633.3,270.9 634.5,273.9 635.0,274.7C635.5,275.5 636.6,276.9 637.1,278.5C637.6,280.1 639.0,286.9 639.6,289.5C640.2,292.1 642.0,298.6 642.5,302.1C643.0,305.6 644.1,316.7 644.6,321.0C645.1,325.3 646.1,337.4 646.6,341.0C647.1,344.6 648.8,350.9 649.4,353.5C650.0,356.1 651.7,361.9 652.2,365.0C652.7,368.1 653.8,379.2 654.2,382.0C654.6,384.8 655.3,388.4 655.7,390.5C656.1,392.6 657.3,399.2 657.8,401.0C658.3,402.8 659.7,406.3 659.9,406.9" stroke-width="3.5"/>
</g>
<path d="M480.5,447.6L652,408.6" stroke="#0a0a0a" stroke-width="3.3" fill="none" stroke-linecap="butt"/>
<path d="M658.2,406.9L647.6,403.9L650.4,414.2Z" fill="#0a0a0a" stroke="#0a0a0a" stroke-width="0.8" stroke-linejoin="round"/>
<rect x="374.1" y="448.5" width="199.4" height="28.2" fill="#fff" stroke="#0a0a0a" stroke-width="3"/>
<rect x="224.7" y="561.3" width="231.2" height="24.6" fill="#fff" stroke="#9c9c9c" stroke-width="1"/>
<path d="M251.5,574H277" stroke="#1128ea" stroke-width="3" stroke-linecap="round"/>
<path d="M344,574H369" stroke="#e83426" stroke-width="3" stroke-linecap="round"/>
</svg>
<div class="t" style="left:41.3px;top:3.6px;font-size:35.1px;color:#0c0c0c;">Worldwide Semiconductor Revenues</div>
<div class="t" style="left:41.2px;top:46.3px;font-size:15px;color:#1a1a1a;">Year-to-Year Percent Change</div>
<div class="t" style="left:15.7px;top:96.0px;font-size:15px;color:#2a3ce6;">Billions/$</div>
<div class="t" style="left:646.5px;top:95.8px;font-size:14.7px;color:#e83426;">Percent</div>
<div class="t" style="right:680.6px;top:119.6px;font-size:17.3px;color:#2a3ce6;">60</div>
<div class="t" style="right:680.6px;top:183.8px;font-size:17.3px;color:#2a3ce6;">50</div>
<div class="t" style="right:680.6px;top:248.0px;font-size:17.3px;color:#2a3ce6;">40</div>
<div class="t" style="right:680.6px;top:312.2px;font-size:17.3px;color:#2a3ce6;">30</div>
<div class="t" style="right:680.6px;top:376.3px;font-size:17.3px;color:#2a3ce6;">20</div>
<div class="t" style="right:680.6px;top:440.5px;font-size:17.3px;color:#2a3ce6;">10</div>
<div class="t" style="right:680.6px;top:504.7px;font-size:17.3px;color:#2a3ce6;">0</div>
<div class="t" style="left:677.3px;top:119.8px;font-size:17.5px;color:#e83426;">80</div>
<div class="t" style="left:677.3px;top:174.8px;font-size:17.5px;color:#e83426;">60</div>
<div class="t" style="left:677.3px;top:229.8px;font-size:17.5px;color:#e83426;">40</div>
<div class="t" style="left:677.3px;top:284.8px;font-size:17.5px;color:#e83426;">20</div>
<div class="t" style="left:677.3px;top:339.8px;font-size:17.5px;color:#e83426;">0</div>
<div class="t" style="left:677.3px;top:394.8px;font-size:17.5px;color:#e83426;">-20</div>
<div class="t" style="left:677.3px;top:449.8px;font-size:17.5px;color:#e83426;">-40</div>
<div class="t" style="left:677.3px;top:504.8px;font-size:17.5px;color:#e83426;">-60</div>
<div class="t" style="left:56.3px;transform:translateX(-50%);top:521.0px;font-size:8.5px;color:#2a2a2a;">Jan</div>
<div class="t" style="left:56.3px;transform:translateX(-50%);top:530.2px;font-size:8.5px;color:#2a2a2a;">'96</div>
<div class="t" style="left:78.5px;transform:translateX(-50%);top:521.0px;font-size:8.5px;color:#2a2a2a;">Jan</div>
<div class="t" style="left:78.5px;transform:translateX(-50%);top:530.2px;font-size:8.5px;color:#2a2a2a;">'97</div>
<div class="t" style="left:100.7px;transform:translateX(-50%);top:521.0px;font-size:8.5px;color:#2a2a2a;">Jan</div>
<div class="t" style="left:100.7px;transform:translateX(-50%);top:530.2px;font-size:8.5px;color:#2a2a2a;">'98</div>
<div class="t" style="left:122.9px;transform:translateX(-50%);top:521.0px;font-size:8.5px;color:#2a2a2a;">Jan</div>
<div class="t" style="left:122.9px;transform:translateX(-50%);top:530.2px;font-size:8.5px;color:#2a2a2a;">'99</div>
<div class="t" style="left:145.1px;transform:translateX(-50%);top:521.0px;font-size:8.5px;color:#2a2a2a;">Jan</div>
<div class="t" style="left:145.1px;transform:translateX(-50%);top:530.2px;font-size:8.5px;color:#2a2a2a;">'00</div>
<div class="t" style="left:167.4px;transform:translateX(-50%);top:521.0px;font-size:8.5px;color:#2a2a2a;">Jan</div>
<div class="t" style="left:167.4px;transform:translateX(-50%);top:530.2px;font-size:8.5px;color:#2a2a2a;">'01</div>
<div class="t" style="left:189.6px;transform:translateX(-50%);top:521.0px;font-size:8.5px;color:#2a2a2a;">Jan</div>
<div class="t" style="left:189.6px;transform:translateX(-50%);top:530.2px;font-size:8.5px;color:#2a2a2a;">'02</div>
<div class="t" style="left:211.8px;transform:translateX(-50%);top:521.0px;font-size:8.5px;color:#2a2a2a;">Jan</div>
<div class="t" style="left:211.8px;transform:translateX(-50%);top:530.2px;font-size:8.5px;color:#2a2a2a;">'03</div>
<div class="t" style="left:234.0px;transform:translateX(-50%);top:521.0px;font-size:8.5px;color:#2a2a2a;">Jan</div>
<div class="t" style="left:234.0px;transform:translateX(-50%);top:530.2px;font-size:8.5px;color:#2a2a2a;">'04</div>
<div class="t" style="left:256.2px;transform:translateX(-50%);top:521.0px;font-size:8.5px;color:#2a2a2a;">Jan</div>
<div class="t" style="left:256.2px;transform:translateX(-50%);top:530.2px;font-size:8.5px;color:#2a2a2a;">'05</div>
<div class="t" style="left:278.4px;transform:translateX(-50%);top:521.0px;font-size:8.5px;color:#2a2a2a;">Jan</div>
<div class="t" style="left:278.4px;transform:translateX(-50%);top:530.2px;font-size:8.5px;color:#2a2a2a;">'06</div>
<div class="t" style="left:300.6px;transform:translateX(-50%);top:521.0px;font-size:8.5px;color:#2a2a2a;">Jan</div>
<div class="t" style="left:300.6px;transform:translateX(-50%);top:530.2px;font-size:8.5px;color:#2a2a2a;">'07</div>
<div class="t" style="left:322.8px;transform:translateX(-50%);top:521.0px;font-size:8.5px;color:#2a2a2a;">Jan</div>
<div class="t" style="left:322.8px;transform:translateX(-50%);top:530.2px;font-size:8.5px;color:#2a2a2a;">'08</div>
<div class="t" style="left:345.0px;transform:translateX(-50%);top:521.0px;font-size:8.5px;color:#2a2a2a;">Jan</div>
<div class="t" style="left:345.0px;transform:translateX(-50%);top:530.2px;font-size:8.5px;color:#2a2a2a;">'09</div>
<div class="t" style="left:367.3px;transform:translateX(-50%);top:521.0px;font-size:8.5px;color:#2a2a2a;">Jan</div>
<div class="t" style="left:367.3px;transform:translateX(-50%);top:530.2px;font-size:8.5px;color:#2a2a2a;">'10</div>
<div class="t" style="left:389.5px;transform:translateX(-50%);top:521.0px;font-size:8.5px;color:#2a2a2a;">Jan</div>
<div class="t" style="left:389.5px;transform:translateX(-50%);top:530.2px;font-size:8.5px;color:#2a2a2a;">'11</div>
<div class="t" style="left:411.7px;transform:translateX(-50%);top:521.0px;font-size:8.5px;color:#2a2a2a;">Jan</div>
<div class="t" style="left:411.7px;transform:translateX(-50%);top:530.2px;font-size:8.5px;color:#2a2a2a;">'12</div>
<div class="t" style="left:433.9px;transform:translateX(-50%);top:521.0px;font-size:8.5px;color:#2a2a2a;">Jan</div>
<div class="t" style="left:433.9px;transform:translateX(-50%);top:530.2px;font-size:8.5px;color:#2a2a2a;">'13</div>
<div class="t" style="left:456.1px;transform:translateX(-50%);top:521.0px;font-size:8.5px;color:#2a2a2a;">Jan</div>
<div class="t" style="left:456.1px;transform:translateX(-50%);top:530.2px;font-size:8.5px;color:#2a2a2a;">'14</div>
<div class="t" style="left:478.3px;transform:translateX(-50%);top:521.0px;font-size:8.5px;color:#2a2a2a;">Jan.</div>
<div class="t" style="left:478.3px;transform:translateX(-50%);top:530.2px;font-size:8.5px;color:#2a2a2a;">'15</div>
<div class="t" style="left:500.5px;transform:translateX(-50%);top:521.0px;font-size:8.5px;color:#2a2a2a;">Jan.</div>
<div class="t" style="left:500.5px;transform:translateX(-50%);top:530.2px;font-size:8.5px;color:#2a2a2a;">'16</div>
<div class="t" style="left:522.7px;transform:translateX(-50%);top:521.0px;font-size:8.5px;color:#2a2a2a;">Jan.</div>
<div class="t" style="left:522.7px;transform:translateX(-50%);top:530.2px;font-size:8.5px;color:#2a2a2a;">'17</div>
<div class="t" style="left:544.9px;transform:translateX(-50%);top:521.0px;font-size:8.5px;color:#2a2a2a;">Jan.</div>
<div class="t" style="left:544.9px;transform:translateX(-50%);top:530.2px;font-size:8.5px;color:#2a2a2a;">'18</div>
<div class="t" style="left:567.2px;transform:translateX(-50%);top:521.0px;font-size:8.5px;color:#2a2a2a;">Jan.</div>
<div class="t" style="left:567.2px;transform:translateX(-50%);top:530.2px;font-size:8.5px;color:#2a2a2a;">'19</div>
<div class="t" style="left:589.4px;transform:translateX(-50%);top:521.0px;font-size:8.5px;color:#2a2a2a;">Jan.</div>
<div class="t" style="left:589.4px;transform:translateX(-50%);top:530.2px;font-size:8.5px;color:#2a2a2a;">'20</div>
<div class="t" style="left:611.6px;transform:translateX(-50%);top:521.0px;font-size:8.5px;color:#2a2a2a;">Jan.</div>
<div class="t" style="left:611.6px;transform:translateX(-50%);top:530.2px;font-size:8.5px;color:#2a2a2a;">'21</div>
<div class="t" style="left:633.8px;transform:translateX(-50%);top:521.0px;font-size:8.5px;color:#2a2a2a;">Jan.</div>
<div class="t" style="left:633.8px;transform:translateX(-50%);top:530.2px;font-size:8.5px;color:#2a2a2a;">'22</div>
<div class="t" style="left:656.0px;transform:translateX(-50%);top:521.0px;font-size:8.5px;color:#2a2a2a;">Jan.</div>
<div class="t" style="left:656.0px;transform:translateX(-50%);top:530.2px;font-size:8.5px;color:#2a2a2a;">'23</div>
<div class="t" style="left:61.5px;top:567.5px;font-size:15.0px;color:#1a1a1a;font-style:italic;">Source: WSTS</div>
<div class="t" style="left:391px;top:455.5px;font-size:15.1px;color:#1c1c1c;">March. '23 = -21.3% Y/Y</div>
<div class="t" style="left:278.5px;top:569.2px;font-size:9.6px;color:#2a2a2a;">Revenue</div>
<div class="t" style="left:370.7px;top:569.3px;font-size:9.45px;color:#2a2a2a;">Y/Y % Change</div>
</body></html>
